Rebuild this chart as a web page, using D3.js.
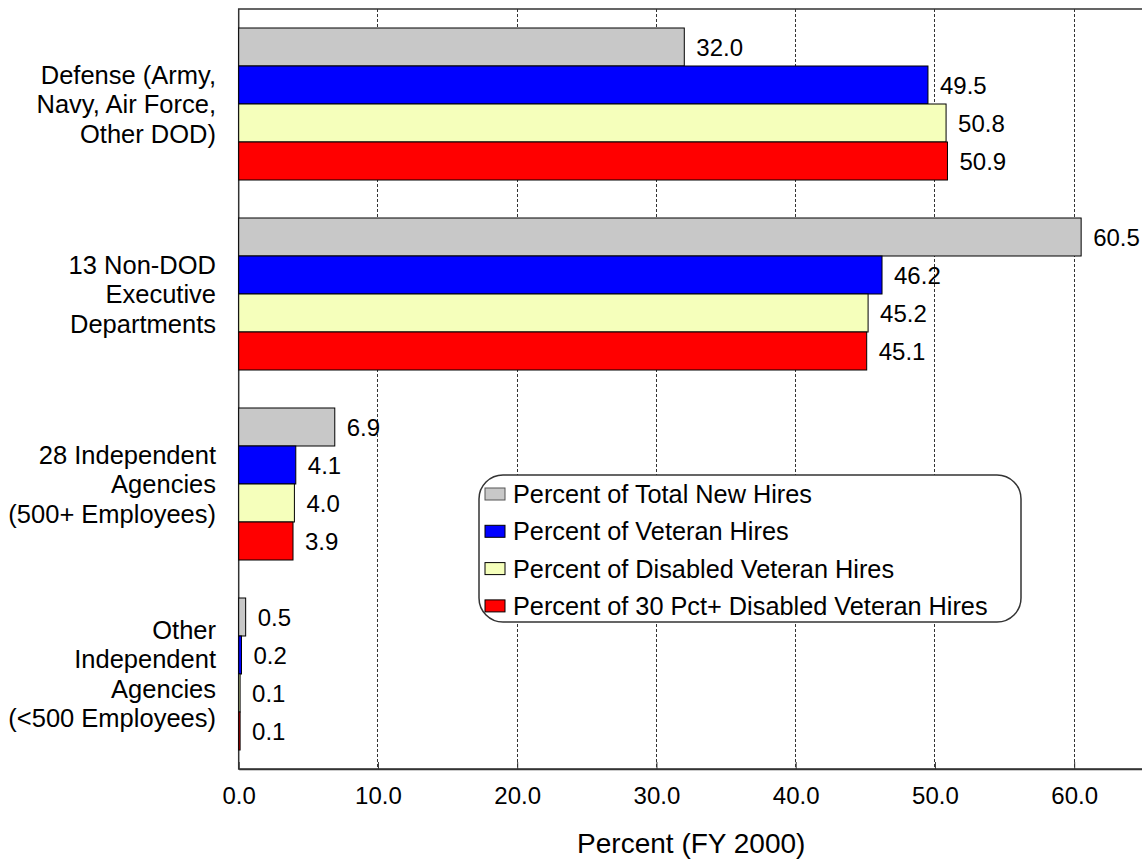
<!DOCTYPE html>
<html>
<head>
<meta charset="utf-8">
<script src="https://cdn.jsdelivr.net/npm/d3@7"></script>
<style>
  html, body { margin: 0; padding: 0; background: #fff; }
  svg { display: block; font-family: "Liberation Sans", Arial, sans-serif; }
</style>
</head>
<body>
<svg id="chart" width="1142" height="861"></svg>
<script>
// Share of FY 2000 hires by agency group
const categories = [
  ["Defense (Army,", "Navy, Air Force,", "Other DOD)"],
  ["13 Non-DOD", "Executive", "Departments"],
  ["28 Independent", "Agencies", "(500+ Employees)"],
  ["Other", "Independent", "Agencies", "(<500 Employees)"]
];
const seriesNames = [
  "Percent of Total New Hires",
  "Percent of Veteran Hires",
  "Percent of Disabled Veteran Hires",
  "Percent of 30 Pct+ Disabled Veteran Hires"
];
const totalNewHires     = [32.0, 60.5, 6.9, 0.5];
const veteranHires      = [49.5, 46.2, 4.1, 0.2];
const disabledVetHires  = [50.8, 45.2, 4.0, 0.1];
const disabled30Hires   = [50.9, 45.1, 3.9, 0.1];
const seriesColors = ["#c8c8c8", "#0000ff", "#f5ffbb", "#ff0000"];
const xTicks = [0, 10, 20, 30, 40, 50, 60];
const xTitle = "Percent (FY 2000)";

const FONT = "'Liberation Sans', Arial, sans-serif";
const seriesValues = [totalNewHires, veteranHires, disabledVetHires, disabled30Hires];
const catIds = categories.map((c, i) => i);

const svg = d3.select("#chart");
const plot = { left: 238.7, top: 9, right: 1143.8, bottom: 769 };

const x = d3.scaleLinear().domain([0, 65]).range([plot.left, plot.right]);
const y = d3.scaleBand().domain(catIds).range([plot.top, plot.bottom])
  .paddingInner(0.2).paddingOuter(0.1);
const ySub = d3.scaleBand().domain(d3.range(seriesNames.length)).range([0, y.bandwidth()]);

// dashed vertical gridlines
svg.append("g")
  .selectAll("line")
  .data(xTicks.filter(t => t > 0))
  .join("line")
  .attr("x1", d => x(d)).attr("x2", d => x(d))
  .attr("y1", plot.top).attr("y2", plot.bottom)
  .attr("stroke", "#333").attr("stroke-width", 1)
  .attr("stroke-dasharray", "3,2")
  .attr("shape-rendering", "crispEdges");

// plot frame
svg.append("rect")
  .attr("x", plot.left).attr("y", plot.top)
  .attr("width", plot.right - plot.left).attr("height", plot.bottom - plot.top)
  .attr("fill", "none").attr("stroke", "#333").attr("stroke-width", 1.5);

// bars
const groups = svg.append("g").selectAll("g")
  .data(catIds)
  .join("g")
  .attr("transform", i => `translate(0,${y(i)})`);

groups.selectAll("rect")
  .data(i => seriesValues.map((vals, s) => ({ s, v: vals[i] })))
  .join("rect")
  .attr("x", x(0))
  .attr("y", d => ySub(d.s))
  .attr("width", d => x(d.v) - x(0))
  .attr("height", ySub.bandwidth())
  .attr("fill", d => seriesColors[d.s])
  .attr("stroke", "#000").attr("stroke-width", 1);

// value labels
groups.selectAll("text")
  .data(i => seriesValues.map((vals, s) => ({ s, v: vals[i] })))
  .join("text")
  .attr("x", d => x(d.v) + 12)
  .attr("y", d => ySub(d.s) + ySub.bandwidth() / 2)
  .attr("dy", "0.36em")
  .attr("font-size", 24)
  .attr("fill", "#000")
  .text(d => d3.format(".1f")(d.v));

// bottom axis with inward ticks
const xAxis = svg.append("g")
  .attr("transform", `translate(0,${plot.bottom})`)
  .call(d3.axisBottom(x).tickValues(xTicks).tickFormat(d3.format(".1f"))
    .tickSizeInner(-7).tickSizeOuter(0).tickPadding(0));
xAxis.select(".domain").attr("stroke", "#333").attr("stroke-width", 1.5);
xAxis.selectAll(".tick line").attr("stroke", "#333");
xAxis.selectAll(".tick text")
  .attr("font-size", 24).attr("font-family", FONT)
  .attr("fill", "#000").attr("y", 35).attr("dy", 0);

// axis title
svg.append("text")
  .attr("x", (plot.left + plot.right) / 2).attr("y", 853)
  .attr("text-anchor", "middle").attr("font-size", 28).attr("fill", "#000")
  .text(xTitle);

// category labels
const lineH = 29.5;
svg.append("g").selectAll("text")
  .data(catIds)
  .join("text")
  .attr("text-anchor", "end")
  .attr("font-size", 25.5)
  .attr("fill", "#000")
  .each(function(i) {
    const lines = categories[i];
    const cy = y(i) + y.bandwidth() / 2;
    const t = d3.select(this);
    lines.forEach((ln, k) => {
      t.append("tspan")
        .attr("x", 216)
        .attr("y", cy + (k - (lines.length - 1) / 2) * lineH)
        .attr("dy", "0.36em")
        .text(ln);
    });
  });

// legend
const lg = svg.append("g").attr("transform", "translate(479,475)");
lg.append("rect")
  .attr("width", 542).attr("height", 147)
  .attr("rx", 24).attr("ry", 24)
  .attr("fill", "#fff").attr("stroke", "#333").attr("stroke-width", 1.5);
const items = lg.selectAll("g.item")
  .data(seriesNames)
  .join("g")
  .attr("class", "item")
  .attr("transform", (d, i) => `translate(6,${19 + i * 37.3})`);
items.append("rect")
  .attr("x", 0).attr("y", -6).attr("width", 20).attr("height", 12)
  .attr("fill", (d, i) => seriesColors[i])
  .attr("stroke", (d, i) => i === 0 ? "#555" : "#000").attr("stroke-width", 1);
items.append("text")
  .attr("x", 28).attr("y", 0).attr("dy", "0.36em")
  .attr("font-size", 25.3).attr("fill", "#000")
  .text(d => d);
</script>
</body>
</html>
